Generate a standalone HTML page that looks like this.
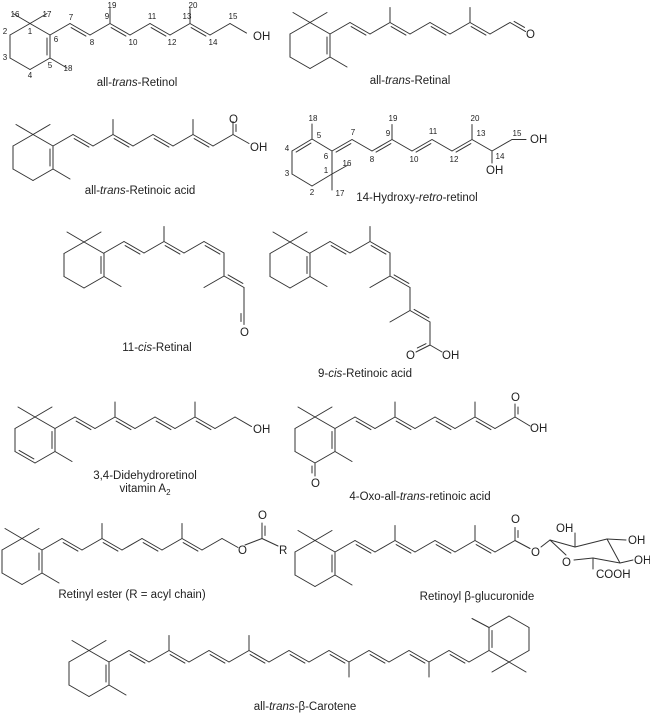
<!DOCTYPE html>
<html><head><meta charset="utf-8">
<style>
html,body{margin:0;padding:0;background:#fff;}
svg{display:block;}
text{font-family:"Liberation Sans",sans-serif;fill:#222;}
.lb{font-size:11.5px;text-anchor:middle;}
.n{font-size:8px;text-anchor:middle;}
.a{font-size:11.5px;}
</style></head>
<body>
<svg id="s" width="650" height="714" viewBox="0 0 650 714" xmlns="http://www.w3.org/2000/svg">
<g id="g" stroke="#333" stroke-width="1" fill="none" stroke-linecap="round"></g>
<text class="lb" x="137" y="86">all-<tspan font-style="italic">trans</tspan>-Retinol</text>
<text class="lb" x="410" y="84">all-<tspan font-style="italic">trans</tspan>-Retinal</text>
<text class="lb" x="140" y="194">all-<tspan font-style="italic">trans</tspan>-Retinoic acid</text>
<text class="lb" x="417" y="201">14-Hydroxy-<tspan font-style="italic">retro</tspan>-retinol</text>
<text class="lb" x="157" y="351">11-<tspan font-style="italic">cis</tspan>-Retinal</text>
<text class="lb" x="365" y="377">9-<tspan font-style="italic">cis</tspan>-Retinoic acid</text>
<text class="lb" x="145" y="479">3,4-Didehydroretinol</text>
<text class="lb" x="145" y="492">vitamin A<tspan font-size="8" dy="3">2</tspan></text>
<text class="lb" x="420" y="500">4-Oxo-all-<tspan font-style="italic">trans</tspan>-retinoic acid</text>
<text class="lb" x="132" y="598">Retinyl ester (R = acyl chain)</text>
<text class="lb" x="477" y="600">Retinoyl β-glucuronide</text>
<text class="lb" x="305" y="710">all-<tspan font-style="italic">trans</tspan>-β-Carotene</text>
<text class="a" x="253" y="40">OH</text>
<text class="a" x="526" y="38">O</text>
<text class="a" x="229" y="123">O</text>
<text class="a" x="250" y="151">OH</text>
<text class="a" x="530" y="143">OH</text>
<text class="a" x="486" y="174">OH</text>
<text class="a" x="240" y="336">O</text>
<text class="a" x="406" y="359">O</text>
<text class="a" x="442" y="359">OH</text>
<text class="a" x="253" y="433">OH</text>
<text class="a" x="511" y="401">O</text>
<text class="a" x="530" y="432">OH</text>
<text class="a" x="311" y="487">O</text>
<text class="a" x="238" y="554">O</text>
<text class="a" x="258" y="519">O</text>
<text class="a" x="279" y="554">R</text>
<text class="a" x="511" y="523">O</text>
<text class="a" x="531" y="556">O</text>
<text class="a" x="562" y="566">O</text>
<text class="a" x="556" y="532">OH</text>
<text class="a" x="628" y="544">OH</text>
<text class="a" x="634" y="564">OH</text>
<text class="a" x="596" y="578">COOH</text>
<g class="n">
<text class="n" x="15" y="17">16</text><text class="n" x="47" y="17">17</text><text class="n" x="30" y="34">1</text>
<text class="n" x="5" y="34">2</text><text class="n" x="56" y="42">6</text><text class="n" x="5" y="60">3</text>
<text class="n" x="50" y="68">5</text><text class="n" x="68" y="71">18</text><text class="n" x="30" y="78">4</text>
<text class="n" x="71" y="20">7</text><text class="n" x="92" y="45">8</text><text class="n" x="107" y="19">9</text>
<text class="n" x="112" y="8">19</text><text class="n" x="133" y="45">10</text><text class="n" x="152" y="19">11</text>
<text class="n" x="172" y="45">12</text><text class="n" x="187" y="19">13</text><text class="n" x="193" y="8">20</text>
<text class="n" x="213" y="45">14</text><text class="n" x="233" y="19">15</text>
<text class="n" x="313" y="121">18</text><text class="n" x="319" y="138">5</text><text class="n" x="287" y="151">4</text>
<text class="n" x="326" y="159">6</text><text class="n" x="287" y="176">3</text><text class="n" x="312" y="195">2</text>
<text class="n" x="326" y="173">1</text><text class="n" x="347" y="166">16</text><text class="n" x="340" y="196">17</text>
<text class="n" x="353" y="135">7</text><text class="n" x="372" y="162">8</text><text class="n" x="388" y="136">9</text>
<text class="n" x="393" y="121">19</text><text class="n" x="414" y="162">10</text><text class="n" x="433" y="134">11</text>
<text class="n" x="454" y="162">12</text><text class="n" x="481" y="136">13</text><text class="n" x="475" y="121">20</text>
<text class="n" x="500" y="159">14</text><text class="n" x="517" y="136">15</text>
</g>
</svg>
<script>
const g=document.getElementById('g');const NS='http://www.w3.org/2000/svg';
const DX=20,DY=11.5,L=23;
function ln(a,b){const e=document.createElementNS(NS,'line');e.setAttribute('x1',a[0]);e.setAttribute('y1',a[1]);e.setAttribute('x2',b[0]);e.setAttribute('y2',b[1]);g.appendChild(e);}
function dbl(a,b,side,toward){ln(a,b);let dx=b[0]-a[0],dy=b[1]-a[1],l=Math.hypot(dx,dy);let px=-dy/l*3,py=dx/l*3;
 if(toward){const mx=(a[0]+b[0])/2,my=(a[1]+b[1])/2;if((toward[0]-mx)*px+(toward[1]-my)*py<0){px=-px;py=-py;}}else if(side<0){px=-px;py=-py;}
 const ux=dx/l*3,uy=dy/l*3;ln([a[0]+px+ux,a[1]+py+uy],[b[0]+px-ux,b[1]+py-uy]);}
function shorten(a,b,s){const dx=b[0]-a[0],dy=b[1]-a[1],l=Math.hypot(dx,dy);return [b[0]-dx/l*s,b[1]-dy/l*s];}
function walk(p,dirs){const pts=[p];for(const d of dirs){const q=pts[pts.length-1];let n;
 if(d==='u')n=[q[0]+DX,q[1]-DY];else if(d==='d')n=[q[0]+DX,q[1]+DY];else if(d==='D')n=[q[0],q[1]+L];else n=[q[0],q[1]-L];pts.push(n);}return pts;}
function chain(pts,doubles){for(let i=0;i<pts.length-1;i++){if(doubles.includes(i))dbl(pts[i],pts[i+1],1);else ln(pts[i],pts[i+1]);}}
function ring(cx,cy,opt){opt=opt||{};const V=[[cx,cy-L],[cx+DX,cy-DY],[cx+DX,cy+DY],[cx,cy+L],[cx-DX,cy+DY],[cx-DX,cy-DY]];
 for(let i=0;i<6;i++){const a=V[i],b=V[(i+1)%6];if(i===1||(opt.d34&&i===3))dbl(a,b,0,[cx,cy]);else ln(a,b);}
 ln(V[0],[cx-17,cy-L-10]);ln(V[0],[cx+17,cy-L-10]);ln(V[2],[cx+DX+17,cy+DY+10]);return V;}
function meth(p,dy){ln(p,[p[0],p[1]+dy]);}
let p;
// 1 retinol
ring(30,46.5);p=walk([50,35],'ududududud');chain(p.slice(0,10),[1,3,5,7]);ln(p[9],shorten(p[9],p[10],4));meth(p[3],-15);meth(p[7],-15);
// 2 retinal
ring(310,45.5);p=walk([330,34],'ududududud');chain(p.slice(0,10),[1,3,5,7]);dbl(p[9],shorten(p[9],p[10],5),-1);meth(p[3],-15);meth(p[7],-15);
// 3 retinoic acid
ring(33,157.5);p=walk([53,146],'ududududu');chain(p,[1,3,5,7]);meth(p[3],-15);meth(p[7],-15);dbl(p[9],[p[9][0],p[9][1]-13],1);ln(p[9],[p[9][0]+16,p[9][1]+9]);
// 4 retro
{const C5=[312,139],C4=[292,151],C3=[292,174],C2=[312,186],C1=[332,174],C6=[332,151];
 dbl(C4,C5,0,[312,162]);ln(C3,C4);ln(C2,C3);ln(C1,C2);ln(C6,C1);ln(C5,C6);meth(C5,-15);ln(C1,[348,165]);ln(C1,[332,190]);
 p=walk(C6,'udududud');dbl(p[0],p[1],1);ln(p[1],p[2]);dbl(p[2],p[3],1);ln(p[3],p[4]);dbl(p[4],p[5],1);ln(p[5],p[6]);dbl(p[6],p[7],1);ln(p[7],p[8]);
 meth(p[3],-15);meth(p[7],-15);const C15=[p[8][0]+20,p[8][1]-11.5];ln(p[8],C15);ln(C15,[C15[0]+14,C15[1]]);meth(p[8],12);}
// 5 11-cis retinal
ring(84,265);p=walk([104,253],'ududud');
{chain(p,[1,3,5]);meth(p[3],-15);const C12=p[6],C13=[C12[0],C12[1]+23],C14=[C13[0]+20,C13[1]+11.5],C15=[C14[0],C14[1]+23];
 ln(C12,C13);ln(C13,[C13[0]-20,C13[1]+11.5]);dbl(C13,C14,-1);ln(C14,C15);dbl(C15,[C15[0],C15[1]+14],1);}
// 6 9-cis retinoic acid
ring(290,265);p=walk([310,253],'udud');chain(p,[1,3]);meth(p[3],-15);
{const C11=[390,276],C12=[410,287.5],C13=[410,310.5],C14=[430,322],C15=[430,345];
 ln(p[4],C11);ln(C11,[370,287.5]);dbl(C11,C12,-1);ln(C12,C13);ln(C13,[390,322]);dbl(C13,C14,-1);ln(C14,C15);dbl(C15,[416,352],1);ln(C15,[442,352]);}
// 7 didehydro
ring(35,440,{d34:true});p=walk([55,428.5],'ududududud');chain(p.slice(0,10),[1,3,5,7]);ln(p[9],shorten(p[9],p[10],4));meth(p[3],-15);meth(p[7],-15);
// 8 4-oxo
ring(315,440);p=walk([335,428.5],'ududududu');chain(p,[1,3,5,7]);meth(p[3],-15);meth(p[7],-15);dbl(p[9],[p[9][0],p[9][1]-13],1);ln(p[9],[p[9][0]+15,p[9][1]+9]);dbl([315,463],[315,476],1);
// 9 retinyl ester
ring(22,561.5);p=walk([42,550],'ududududu');chain(p,[1,3,5,7]);meth(p[3],-15);meth(p[7],-15);
ln(p[9],[p[9][0]+16,p[9][1]+9]);ln([245,545],[262,538.5]);dbl([262,538.5],[262,523],1);ln([262,538.5],[278,546]);
// 10 glucuronide
ring(315,563.5);p=walk([335,552],'ududududu');chain(p,[1,3,5,7]);meth(p[3],-15);meth(p[7],-15);
dbl(p[9],[p[9][0],p[9][1]-13],1);ln(p[9],[p[9][0]+15,p[9][1]+8]);
{const A=[550,540],B=[575,547],C=[607,539],D=[620,563],E=[593,558];
 ln([541,547],A);ln(A,[566,555]);ln([574,560],E);ln(E,D);ln(D,C);ln(C,B);ln(B,A);ln(B,[575,533]);ln(C,[626,540]);ln(D,[633,560]);ln(E,[593,569]);}
// 11 carotene
ring(89,673.5);p=walk([109,662],'udududududududududu');chain(p,[1,3,5,7,9,11,13,15,17]);
meth(p[3],-15);meth(p[7],-15);meth(p[12],15);meth(p[16],15);
{const c6=p[19],c5=[c6[0],c6[1]-23],c4=[c6[0]+20,c6[1]-34.5],c3=[c6[0]+40,c6[1]-23],c2=[c6[0]+40,c6[1]],c1=[c6[0]+20,c6[1]+11.5];
 dbl(c6,c5,0,[c6[0]+20,c6[1]-11.5]);ln(c5,c4);ln(c4,c3);ln(c3,c2);ln(c2,c1);ln(c1,c6);ln(c5,[c5[0]-17,c5[1]-9]);ln(c1,[c1[0]-17,c1[1]+10]);ln(c1,[c1[0]+17,c1[1]+10]);}
</script>
</body></html>
